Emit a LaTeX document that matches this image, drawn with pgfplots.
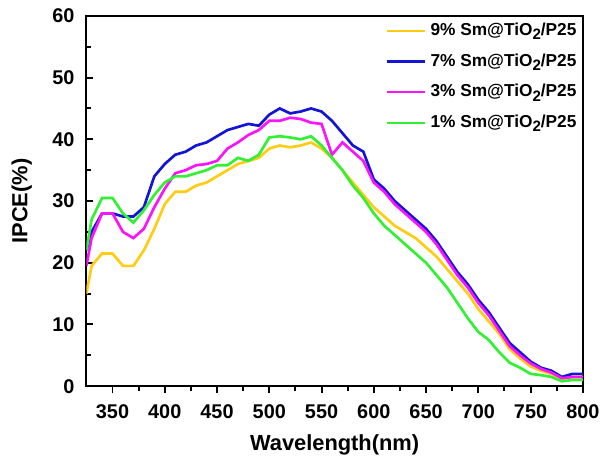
\documentclass[border=0pt]{standalone}
\usepackage{fontspec}
\setmainfont{Liberation Sans}
\usepackage{pgfplots}
\pgfplotsset{compat=1.18}
\definecolor{cyellow}{RGB}{255,204,20}
\definecolor{cblue}{RGB}{20,20,215}
\definecolor{cmag}{RGB}{250,20,250}
\definecolor{cgreen}{RGB}{50,240,50}

\newcommand{\sub}{\raisebox{-0.45ex}{\fontsize{7.6}{8}\selectfont 2}}

\pgfplotstableread{
x    s9    s7    s3    s1
325  15.0  22.0  19.5  22.0
330  19.5  25.0  24.0  27.0
340  21.5  28.0  28.0  30.5
350  21.5  28.0  28.0  30.5
360  19.5  27.5  25.0  28.0
370  19.5  27.5  24.0  26.5
380  22.0  29.0  25.5  28.5
390  25.5  34.0  29.0  31.0
400  29.5  36.0  32.0  33.0
410  31.5  37.5  34.5  34.0
420  31.5  38.0  35.0  34.0
430  32.5  39.0  35.8  34.5
440  33.0  39.5  36.0  35.0
450  34.0  40.5  36.5  35.8
460  35.0  41.5  38.5  35.8
470  36.0  42.0  39.5  37.0
480  36.5  42.5  40.7  36.5
490  37.0  42.2  41.5  37.5
500  38.5  44.0  43.0  40.3
510  39.0  45.0  43.0  40.5
520  38.7  44.2  43.5  40.3
530  39.0  44.5  43.3  40.0
540  39.5  45.0  42.7  40.5
550  38.5  44.5  42.5  39.0
560  37.0  43.0  37.5  37.0
570  35.0  41.0  39.5  35.0
580  33.0  39.0  38.0  32.5
590  31.0  38.0  36.5  30.5
600  29.0  33.5  33.0  28.0
610  27.5  32.0  31.5  26.0
620  26.0  30.0  29.5  24.5
630  25.0  28.5  28.0  23.0
640  24.0  27.0  26.5  21.5
650  22.5  25.5  25.0  20.0
660  21.0  23.5  23.0  18.0
670  19.0  21.0  20.5  16.0
680  17.0  18.5  18.0  13.5
690  15.0  16.5  16.0  11.0
700  12.5  14.0  13.5   8.8
710  10.5  12.0  11.5   7.5
720   8.5   9.5   9.0   5.5
730   6.0   7.0   6.5   3.8
740   4.5   5.5   5.0   3.0
750   3.2   4.0   3.7   2.0
760   2.5   3.0   2.8   1.8
770   2.0   2.5   2.2   1.5
780   1.2   1.5   1.3   0.8
790   1.5   2.0   1.5   1.0
800   1.5   2.0   1.5   1.0
}\ipce

\begin{document}
\begin{tikzpicture}
\begin{axis}[
  name=ax,
  scale only axis,
  width=250pt, height=186.5pt,
  xmin=325, xmax=800, ymin=0, ymax=60,
  xtick={350,400,...,800},
  ytick={0,10,...,60},
  minor x tick num=1,
  minor y tick num=1,
  tick pos=left,
  xtick align=outside,
  ytick align=inside,
  major tick length=3.5pt,
  minor tick length=2.5pt,
  axis line style={line width=1.1pt},
  every tick/.style={line width=1pt, black},
  /pgf/number format/assume math mode=true,
  ticklabel style={font=\fontsize{10}{12}\selectfont\bfseries},
  yticklabel style={xshift=-2.5pt},
  xticklabel style={yshift=-2pt},
  xlabel={Wavelength(nm)},
  ylabel={IPCE(\%)},
  every axis x label/.style={at={([yshift=-29.5pt]rel axis cs:0.5,0)}, anchor=center,
    font=\fontsize{11}{13}\selectfont\bfseries},
  every axis y label/.style={at={([xshift=-32.5pt]rel axis cs:0,0.5)}, anchor=center, rotate=90,
    font=\fontsize{11}{13}\selectfont\bfseries},
  legend style={draw=none, fill=none, at={(1,1)}, anchor=north east,
    xshift=-1pt, yshift=-1.5pt,
    font=\fontsize{8.7}{10}\selectfont\bfseries,
    row sep=3.6pt, inner sep=0pt},
  legend cell align=left,
  legend image code/.code={\draw[#1, line width=1.2pt] (0cm,0cm) -- (19.5pt,0cm);},
  every axis plot/.append style={line width=1.35pt},
]
\addplot[cyellow] table[x=x, y=s9] {\ipce};
\addlegendentry{9\% Sm@TiO\sub/P25}
\addplot[cblue] table[x=x, y=s7] {\ipce};
\addlegendentry{7\% Sm@TiO\sub/P25}
\addplot[cmag] table[x=x, y=s3] {\ipce};
\addlegendentry{3\% Sm@TiO\sub/P25}
\addplot[cgreen] table[x=x, y=s1] {\ipce};
\addlegendentry{1\% Sm@TiO\sub/P25}
\end{axis}
\path (ax.south west) ++(-43.5pt,-37pt);
\path (ax.north east) ++(9.5pt,8pt);
\end{tikzpicture}
\end{document}
